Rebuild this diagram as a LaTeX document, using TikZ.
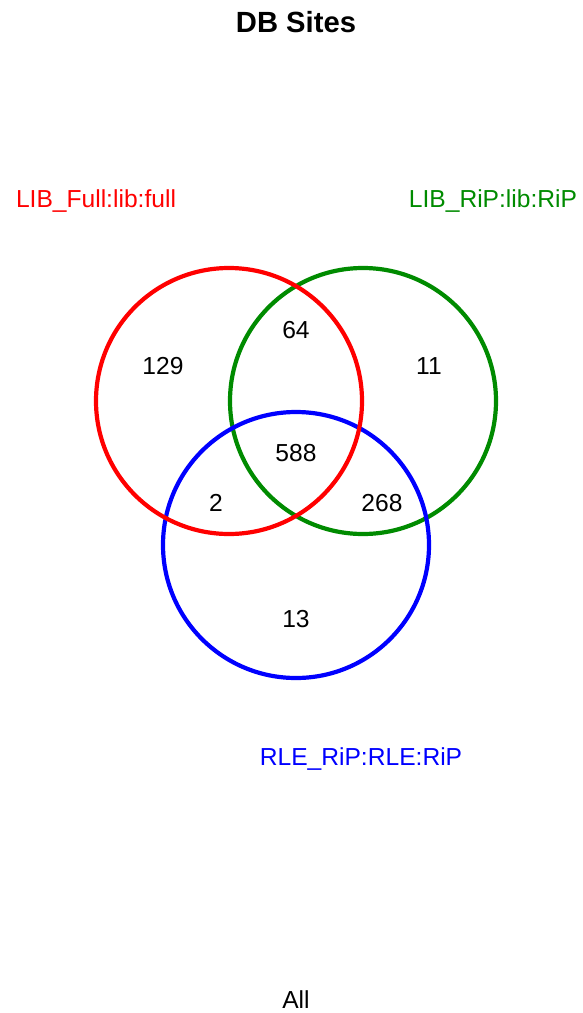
\documentclass[tikz,border=0pt]{standalone}
\usepackage{fontspec}
\setmainfont{Liberation Sans}
\definecolor{vgreen}{RGB}{0,139,0}
\definecolor{vred}{RGB}{255,0,0}
\definecolor{vblue}{RGB}{0,0,255}
\begin{document}
\begin{tikzpicture}[x=1pt,y=-1pt,
  lbl/.style={anchor=base,inner sep=0pt,font=\fontsize{24.6}{29}\selectfont},
  ttl/.style={anchor=base,inner sep=0pt,font=\fontsize{29.2}{35}\selectfont\bfseries},
  ring/.style={line width=4.2pt}]
\useasboundingbox[fill=white] (0,0) rectangle (583,1013);
\draw[ring,vgreen] (363,401) circle[radius=133];
\draw[ring,vblue] (296,545) circle[radius=133];
\draw[ring,vred] (229,401) circle[radius=133];
\node[ttl] (title) at (296,32) {DB Sites};
\node[lbl,text=vred] (lfull) at (96,207) {LIB\_Full:lib:full};
\node[lbl,text=vgreen] (lrip) at (493,207) {LIB\_RiP:lib:RiP};
\node[lbl,text=vblue] (rle) at (361,765) {RLE\_RiP:RLE:RiP};
\node[lbl] (all) at (296,1008) {All};
\node[lbl] (n129) at (163,374) {129};
\node[lbl] (n64) at (296,338) {64};
\node[lbl] (n11) at (429,374) {11};
\node[lbl] (n588) at (296,461) {588};
\node[lbl] (n2) at (216,511) {2};
\node[lbl] (n268) at (382,511) {268};
\node[lbl] (n13) at (296,627) {13};
\end{tikzpicture}
\end{document}
